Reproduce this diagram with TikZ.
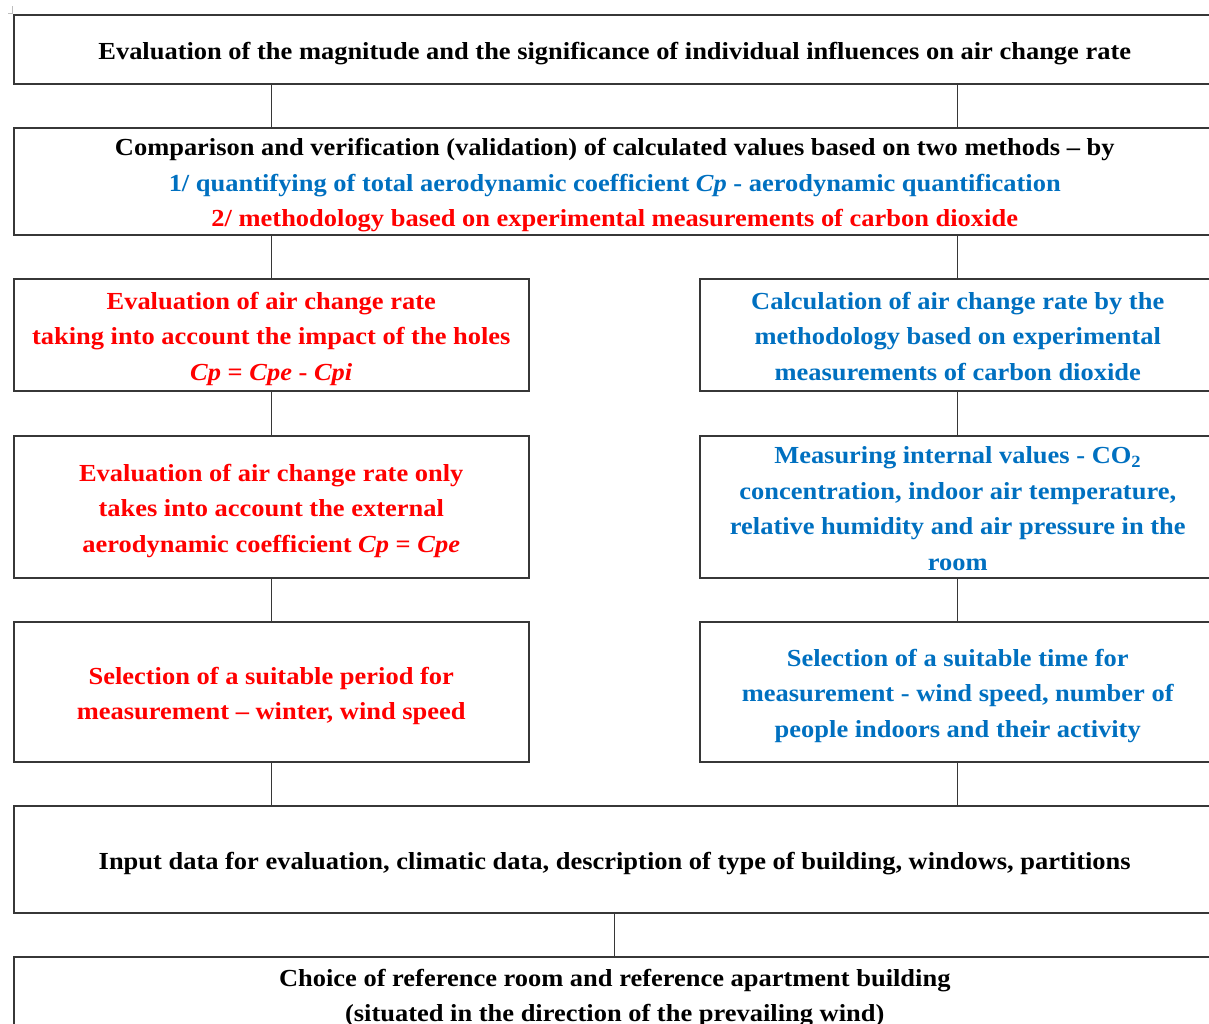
\documentclass[tikz,border=0pt]{standalone}
\usepackage{fontspec}
\setmainfont[FakeStretch=1.08]{Liberation Serif}
\definecolor{myblue}{RGB}{0,112,192}
\definecolor{myred}{RGB}{255,0,0}
\definecolor{boxline}{RGB}{55,55,55}
\definecolor{markgray}{RGB}{190,190,190}
\newcommand\topstrut{\rule{0pt}{26pt}}
\newcommand\botstrut{\rule[-6pt]{0pt}{6pt}}
\begin{document}
\begin{tikzpicture}[x=1pt,y=-1pt,
  box/.style={draw=boxline, line width=1.5pt, rectangle, align=center, inner sep=0pt,
    font=\bfseries\fontsize{24.5}{35.5}\selectfont, anchor=north west},
  link/.style={draw=boxline, line width=1.1pt}]
\useasboundingbox (0,0) rectangle (1209,1023);
\clip (0,0) rectangle (1209,1023);
\draw[markgray, line width=0.8pt] (12,6) -- (12,13) -- (8,13);
\node[box, minimum width=1202pt, minimum height=69pt] (top) at (13,14)
  {\topstrut Evaluation of the magnitude and the significance of individual influences on air change rate\botstrut};
\node[box, minimum width=1202pt, minimum height=107pt] (cmp) at (13,127)
  {\topstrut Comparison and verification (validation) of calculated values based on two methods – by\\
   \textcolor{myblue}{1/ quantifying of total aerodynamic coefficient \textit{Cp} - aerodynamic quantification}\\
   \textcolor{myred}{2/ methodology based on experimental measurements of carbon dioxide}\botstrut};
\node[box, text=myred, minimum width=515pt, minimum height=112pt] (A) at (13,278)
  {\topstrut Evaluation of air change rate\\ taking into account the impact of the holes\\ \textit{Cp} = \textit{Cpe} - \textit{Cpi}\botstrut};
\node[box, text=myblue, minimum width=516pt, minimum height=112pt] (B) at (699,278)
  {\topstrut Calculation of air change rate by the\\ methodology based on experimental\\ measurements of carbon dioxide\botstrut};
\node[box, text=myred, minimum width=515pt, minimum height=142pt] (C) at (13,435)
  {\topstrut Evaluation of air change rate only\\ takes into account the external\\ aerodynamic coefficient \textit{Cp} = \textit{Cpe}\botstrut};
\node[box, text=myblue, minimum width=516pt, minimum height=142pt] (D) at (699,435)
  {\topstrut Measuring internal values - CO\textsubscript{2}\\ concentration, indoor air temperature,\\ relative humidity and air pressure in the\\ room\botstrut};
\node[box, text=myred, minimum width=515pt, minimum height=140pt] (E) at (13,621)
  {\topstrut Selection of a suitable period for\\ measurement – winter, wind speed\botstrut};
\node[box, text=myblue, minimum width=516pt, minimum height=140pt] (F) at (699,621)
  {\topstrut Selection of a suitable time for\\ measurement - wind speed, number of\\ people indoors and their activity\botstrut};
\node[box, minimum width=1202pt, minimum height=107pt] (G) at (13,805)
  {\topstrut Input data for evaluation, climatic data, description of type of building, windows, partitions\botstrut};
\node[box, minimum width=1202pt, minimum height=74pt] (H) at (13,956)
  {\topstrut Choice of reference room and reference apartment building\\ (situated in the direction of the prevailing wind)\botstrut};
\draw[link] (top.south -| A.north) -- (cmp.north -| A.north);
\draw[link] (top.south -| B.north) -- (cmp.north -| B.north);
\draw[link] (cmp.south -| A.north) -- (A.north);
\draw[link] (cmp.south -| B.north) -- (B.north);
\draw[link] (A.south) -- (C.north);
\draw[link] (B.south) -- (D.north);
\draw[link] (C.south) -- (E.north);
\draw[link] (D.south) -- (F.north);
\draw[link] (E.south) -- (G.north -| E.south);
\draw[link] (F.south) -- (G.north -| F.south);
\draw[link] (G.south) -- (H.north);
\end{tikzpicture}
\end{document}
